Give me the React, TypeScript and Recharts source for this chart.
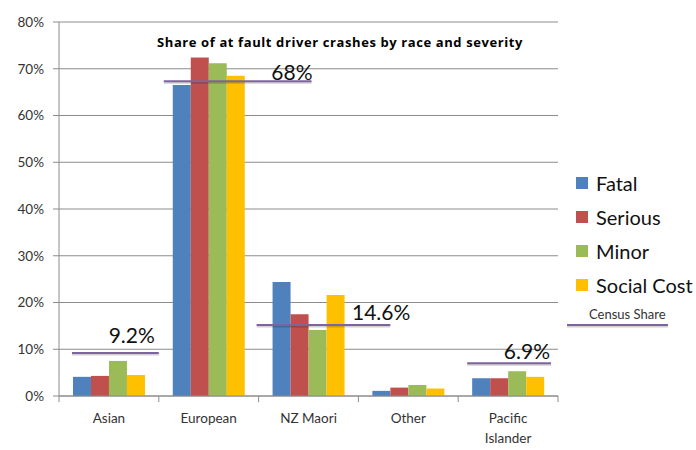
import { BarChart, Bar, XAxis, YAxis, CartesianGrid, ReferenceLine, Legend, Text } from 'recharts';

const categories = ['Asian', 'European', 'NZ Maori', 'Other', 'Pacific Islander'];

const fatal = [0.041, 0.665, 0.244, 0.011, 0.038];
const serious = [0.043, 0.724, 0.175, 0.018, 0.038];
const minor = [0.075, 0.712, 0.141, 0.0235, 0.053];
const socialCost = [0.045, 0.685, 0.216, 0.016, 0.041];

const seriesNames = ['Fatal', 'Serious', 'Minor', 'Social Cost'];
const seriesKeys = ['fatal', 'serious', 'minor', 'social'];
const seriesColors = ['#4F81BD', '#C0504D', '#9BBB59', '#FFC000'];

// census share markers: level, label and span in category units (0..5)
const censusLevel = [0.092, 0.673, 0.152, 0.07];
const censusLabel = ['9.2%', '68%', '14.6%', '6.9%'];
const censusStart = [0.13, 1.05, 1.98, 4.09];
const censusEnd = [1.0, 2.53, 3.32, 4.93];

const yTicks = [0, 0.1, 0.2, 0.3, 0.4, 0.5, 0.6, 0.7, 0.8];
const boundaries = [0, 1, 2, 3, 4, 5];

// hand placement of the census labels (text box offsets in px)
const labelShift = [
    { dx: -4, dy: 10 },
    { dx: 1, dy: 1 },
    { dx: 20, dy: 5 },
    { dx: -1, dy: 4 },
];

// pos = centre of each category on the helper numeric axis
const data = categories.map((name, i) => ({
    name,
    pos: i + 0.5,
    fatal: fatal[i],
    serious: serious[i],
    minor: minor[i],
    social: socialCost[i],
}));

const FONT = 'Lato, "Open Sans", sans-serif';
const GRID = '#8c8c8c';
const CENSUS = '#7e649f';

const CategoryTick = (props: any) => {
    const { x, y, payload } = props;
    return (
        <Text
            x={x}
            y={y + 9}
            width={80}
            textAnchor="middle"
            verticalAnchor="start"
            lineHeight={20}
            fontSize={13.5}
            fontFamily={FONT}
            fill="#333"
        >
            {payload.value}
        </Text>
    );
};

const censusShape = (props: any) => {
    const { x1, y1, x2, y2 } = props;
    return (
        <g>
            <line x1={x1} y1={y1 + 1.5} x2={x2} y2={y2 + 1.5} stroke="rgba(0,0,0,0.18)" strokeWidth={2} />
            <line x1={x1} y1={y1} x2={x2} y2={y2} stroke={CENSUS} strokeWidth={2} />
        </g>
    );
};

const makeCensusLabel = (i: number) => (props: any) => {
    const vb = props.viewBox || {};
    const right = (vb.x ?? 0) + (vb.width ?? 0);
    return (
        <text
            x={right + labelShift[i].dx}
            y={(vb.y ?? 0) - labelShift[i].dy}
            textAnchor="end"
            fontSize={21}
            fontFamily={FONT}
            fill="#111"
        >
            {censusLabel[i]}
        </text>
    );
};

const LegendBox = () => (
    <div style={{ fontFamily: FONT, color: '#111' }}>
        {seriesNames.map((name, i) => (
            <div key={name} style={{ display: 'flex', alignItems: 'center', height: 34 }}>
                <span style={{ width: 12, height: 12, background: seriesColors[i], marginRight: 8 }} />
                <span style={{ fontSize: 20 }}>{name}</span>
            </div>
        ))}
        <div style={{ marginLeft: 13, marginTop: 4, fontSize: 13, color: '#333', lineHeight: '16px' }}>Census Share</div>
        <div style={{ marginLeft: -9, marginTop: 2, width: 101, height: 2, background: CENSUS, boxShadow: '0 1.5px 1px rgba(0,0,0,0.2)' }} />
    </div>
);

export default function App() {
    return (
        <div style={{ position: 'absolute', left: 0, top: 0, width: 696, height: 450, background: '#fff' }}>
            <div
                style={{
                    position: 'absolute',
                    left: 157,
                    top: 33,
                    fontFamily: '"Open Sans", sans-serif',
                    fontWeight: 700,
                    fontSize: 13,
                    letterSpacing: 0.6,
                    color: '#000',
                    whiteSpace: 'nowrap',
                    zIndex: 2,
                }}
            >
                Share of at fault driver crashes by race and severity
            </div>
            <BarChart
                width={696}
                height={450}
                data={data}
                margin={{ top: 22, right: 138, bottom: 0, left: 0 }}
                barCategoryGap="14%"
                barGap={0}
            >
                <CartesianGrid vertical={false} stroke={GRID} />
                <XAxis
                    dataKey="name"
                    xAxisId="cat"
                    height={54}
                    axisLine={{ stroke: GRID }}
                    tickLine={false}
                    tick={<CategoryTick />}
                    interval={0}
                />
                <XAxis xAxisId="num" dataKey="pos" type="number" domain={[0, 5]} allowDataOverflow hide />
                <YAxis
                    width={59}
                    domain={[0, 0.8]}
                    ticks={yTicks}
                    allowDataOverflow
                    tickFormatter={(v: number) => `${Math.round(v * 100)}%`}
                    axisLine={{ stroke: GRID }}
                    tickLine={{ stroke: GRID }}
                    tickSize={6}
                    tickMargin={9}
                    tick={{ fontSize: 13.5, fontFamily: FONT, fill: '#333' }}
                />
                {seriesKeys.map((k, i) => (
                    <Bar key={k} dataKey={k} name={seriesNames[i]} xAxisId="cat" fill={seriesColors[i]} isAnimationActive={false} />
                ))}
                {boundaries.map((b) => (
                    <ReferenceLine
                        key={`b${b}`}
                        xAxisId="num"
                        segment={[
                            { x: b, y: 0 },
                            { x: b, y: -0.013 },
                        ]}
                        stroke={GRID}
                        ifOverflow="visible"
                    />
                ))}
                {censusLevel.map((lvl, i) => (
                    <ReferenceLine
                        key={`c${i}`}
                        xAxisId="num"
                        segment={[
                            { x: censusStart[i], y: lvl },
                            { x: censusEnd[i], y: lvl },
                        ]}
                        shape={censusShape}
                        label={makeCensusLabel(i)}
                        ifOverflow="visible"
                    />
                ))}
                <Legend
                    layout="horizontal"
                    align="center"
                    verticalAlign="middle"
                    content={<LegendBox />}
                    wrapperStyle={{ position: 'absolute', left: 576, top: 166, width: 120 }}
                />
            </BarChart>
        </div>
    );
}
